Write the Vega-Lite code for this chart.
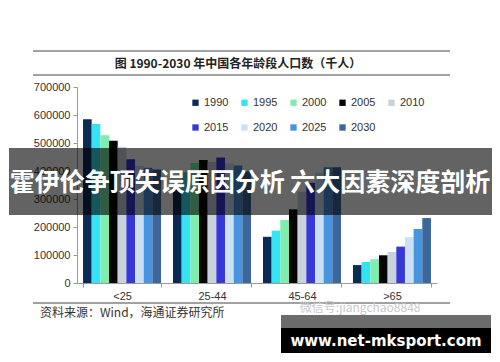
{
  "$schema": "https://vega.github.io/schema/vega-lite/v6.json",
  "width": 360,
  "height": 196,
  "autosize": "none",
  "padding": {"left": 77, "top": 87, "right": 63, "bottom": 79},
  "background": "white",
  "config": {
    "font": "Liberation Sans",
    "view": {"stroke": null}
  },
  "layer": [
    {
      "data": {"values": [
        {"group": "<25", "year": "1990", "value": 585000},
        {"group": "<25", "year": "1995", "value": 568000},
        {"group": "<25", "year": "2000", "value": 528000},
        {"group": "<25", "year": "2005", "value": 508000},
        {"group": "<25", "year": "2010", "value": 487000},
        {"group": "<25", "year": "2015", "value": 442000},
        {"group": "<25", "year": "2020", "value": 418000},
        {"group": "<25", "year": "2025", "value": 412000},
        {"group": "<25", "year": "2030", "value": 405000},
        {"group": "25-44", "year": "1990", "value": 335000},
        {"group": "25-44", "year": "1995", "value": 396000},
        {"group": "25-44", "year": "2000", "value": 429000},
        {"group": "25-44", "year": "2005", "value": 439000},
        {"group": "25-44", "year": "2010", "value": 433000},
        {"group": "25-44", "year": "2015", "value": 448000},
        {"group": "25-44", "year": "2020", "value": 427000},
        {"group": "25-44", "year": "2025", "value": 420000},
        {"group": "25-44", "year": "2030", "value": 399000},
        {"group": "45-64", "year": "1990", "value": 165000},
        {"group": "45-64", "year": "1995", "value": 187000},
        {"group": "45-64", "year": "2000", "value": 225000},
        {"group": "45-64", "year": "2005", "value": 263000},
        {"group": "45-64", "year": "2010", "value": 326000},
        {"group": "45-64", "year": "2015", "value": 358000},
        {"group": "45-64", "year": "2020", "value": 395000},
        {"group": "45-64", "year": "2025", "value": 413000},
        {"group": "45-64", "year": "2030", "value": 413000},
        {"group": ">65", "year": "1990", "value": 64000},
        {"group": ">65", "year": "1995", "value": 75000},
        {"group": ">65", "year": "2000", "value": 85000},
        {"group": ">65", "year": "2005", "value": 99000},
        {"group": ">65", "year": "2010", "value": 111000},
        {"group": ">65", "year": "2015", "value": 130000},
        {"group": ">65", "year": "2020", "value": 164000},
        {"group": ">65", "year": "2025", "value": 193000},
        {"group": ">65", "year": "2030", "value": 232000}
      ]},
      "mark": {"type": "bar"},
      "encoding": {
        "x": {
          "field": "group", "type": "nominal",
          "sort": ["<25", "25-44", "45-64", ">65"],
          "scale": {"paddingInner": 0.133, "paddingOuter": 0.067},
          "axis": {"title": null, "labelAngle": 0, "tickBand": "extent", "tickSize": 4,
                   "domainColor": "#999", "tickColor": "#999", "labelColor": "#333",
                   "labelFontSize": 11, "labelPadding": 3}
        },
        "xOffset": {"field": "year", "type": "nominal", "scale": {"paddingInner": 0, "paddingOuter": 0}},
        "y": {
          "field": "value", "type": "quantitative",
          "scale": {"domain": [0, 700000], "nice": false},
          "axis": {"orient": "left", "title": null, "values": [0, 100000, 200000, 300000, 400000, 500000, 600000, 700000],
                   "format": "d", "grid": false, "tickSize": 4, "domainColor": "#999", "tickColor": "#999",
                   "labelColor": "#333", "labelFontSize": 11, "labelPadding": 3, "labelOverlap": false}
        },
        "color": {
          "field": "year", "type": "nominal",
          "scale": {
            "domain": ["1990", "1995", "2000", "2005", "2010", "2015", "2020", "2025", "2030"],
            "range": ["#0b2b57", "#35e3f2", "#7eeeb0", "#050505", "#c9d1da", "#3838d6", "#cce0f4", "#4794e0", "#3c679d"]
          },
          "legend": {"title": null, "orient": "none", "legendX": 113, "legendY": 10, "direction": "horizontal",
                     "columns": 5, "symbolType": "square", "symbolSize": 40, "symbolStrokeWidth": 0,
                     "labelFontSize": 11, "labelColor": "#333", "columnPadding": 10, "rowPadding": 13,
                     "labelOffset": 3, "padding": 0}
        }
      }
    },
    {
      "data": {"values": [
        {"u1": -0.1222, "u2": 1.036, "v": 828571},
        {"u1": -0.1222, "u2": 1.036, "v": 742857},
        {"u1": -0.1222, "u2": 1.036, "v": -71429}
      ]},
      "mark": {"type": "rule", "color": "#444", "strokeWidth": 1},
      "encoding": {
        "x": {"field": "u1", "type": "quantitative", "scale": {"domain": [0, 1], "nice": false, "zero": false}, "axis": null},
        "x2": {"field": "u2"},
        "y": {"field": "v", "type": "quantitative", "axis": null}
      }
    },
    {
      "data": {"values": [
        {"label": "图  1990-2030 年中国各年龄段人口数（千人）", "u": 0.447, "v": 782143}
      ]},
      "mark": {"type": "text", "font": "Noto Sans CJK SC", "fontSize": 12, "fontWeight": "bold", "color": "#222", "align": "center", "baseline": "middle"},
      "encoding": {
        "x": {"field": "u", "type": "quantitative", "scale": {"domain": [0, 1], "nice": false, "zero": false}, "axis": null},
        "y": {"field": "v", "type": "quantitative", "axis": null},
        "text": {"field": "label"}
      }
    },
    {
      "data": {"values": [
        {"label": "资料来源：Wind，海通证券研究所", "u": -0.1028, "v": -107143}
      ]},
      "mark": {"type": "text", "font": "Noto Sans CJK SC", "fontSize": 12, "color": "#333", "align": "left", "baseline": "middle"},
      "encoding": {
        "x": {"field": "u", "type": "quantitative", "scale": {"domain": [0, 1], "nice": false, "zero": false}, "axis": null},
        "y": {"field": "v", "type": "quantitative", "axis": null},
        "text": {"field": "label"}
      }
    },
    {
      "data": {"values": [
        {"label": "微信号:jiangchao8848", "u": 0.619, "v": -89286}
      ]},
      "mark": {"type": "text", "font": "Noto Sans CJK SC", "fontSize": 12, "color": "#c8c8c8", "align": "left", "baseline": "middle"},
      "encoding": {
        "x": {"field": "u", "type": "quantitative", "scale": {"domain": [0, 1], "nice": false, "zero": false}, "axis": null},
        "y": {"field": "v", "type": "quantitative", "axis": null},
        "text": {"field": "label"}
      }
    },
    {
      "data": {"values": [
        {"u1": -0.1889, "u2": 1.1528, "v1": 482143, "v2": 242857}
      ]},
      "mark": {"type": "rect", "color": "#000", "opacity": 0.61},
      "encoding": {
        "x": {"field": "u1", "type": "quantitative", "scale": {"domain": [0, 1], "nice": false, "zero": false}, "axis": null},
        "x2": {"field": "u2"},
        "y": {"field": "v1", "type": "quantitative", "axis": null},
        "y2": {"field": "v2"}
      }
    },
    {
      "data": {"values": [
        {"label": "霍伊伦争顶失误原因分析 六大因素深度剖析", "u": 0.4806, "v": 357143}
      ]},
      "mark": {"type": "text", "font": "Noto Sans CJK SC", "fontSize": 25, "fontWeight": "bold", "color": "#fff", "align": "center", "baseline": "middle"},
      "encoding": {
        "x": {"field": "u", "type": "quantitative", "scale": {"domain": [0, 1], "nice": false, "zero": false}, "axis": null},
        "y": {"field": "v", "type": "quantitative", "axis": null},
        "text": {"field": "label"}
      }
    },
    {
      "data": {"values": [
        {"u1": 0.5667, "u2": 1.15, "v1": -114286, "v2": -160714, "fill": "#6b6b6b"},
        {"u1": 0.5667, "u2": 1.15, "v1": -160714, "v2": -250000, "fill": "#000000"}
      ]},
      "mark": {"type": "rect"},
      "encoding": {
        "x": {"field": "u1", "type": "quantitative", "scale": {"domain": [0, 1], "nice": false, "zero": false}, "axis": null},
        "x2": {"field": "u2"},
        "y": {"field": "v1", "type": "quantitative", "axis": null},
        "y2": {"field": "v2"},
        "fill": {"field": "fill", "type": "nominal", "scale": null}
      }
    },
    {
      "data": {"values": [
        {"label": "www.net-mksport.com", "u": 0.8583, "v": -207143}
      ]},
      "mark": {"type": "text", "font": "DejaVu Sans", "fontSize": 15, "fontWeight": "bold", "color": "#fff", "align": "center", "baseline": "middle"},
      "encoding": {
        "x": {"field": "u", "type": "quantitative", "scale": {"domain": [0, 1], "nice": false, "zero": false}, "axis": null},
        "y": {"field": "v", "type": "quantitative", "axis": null},
        "text": {"field": "label"}
      }
    }
  ],
  "resolve": {"scale": {"x": "independent"}, "axis": {"y": "independent"}}
}
